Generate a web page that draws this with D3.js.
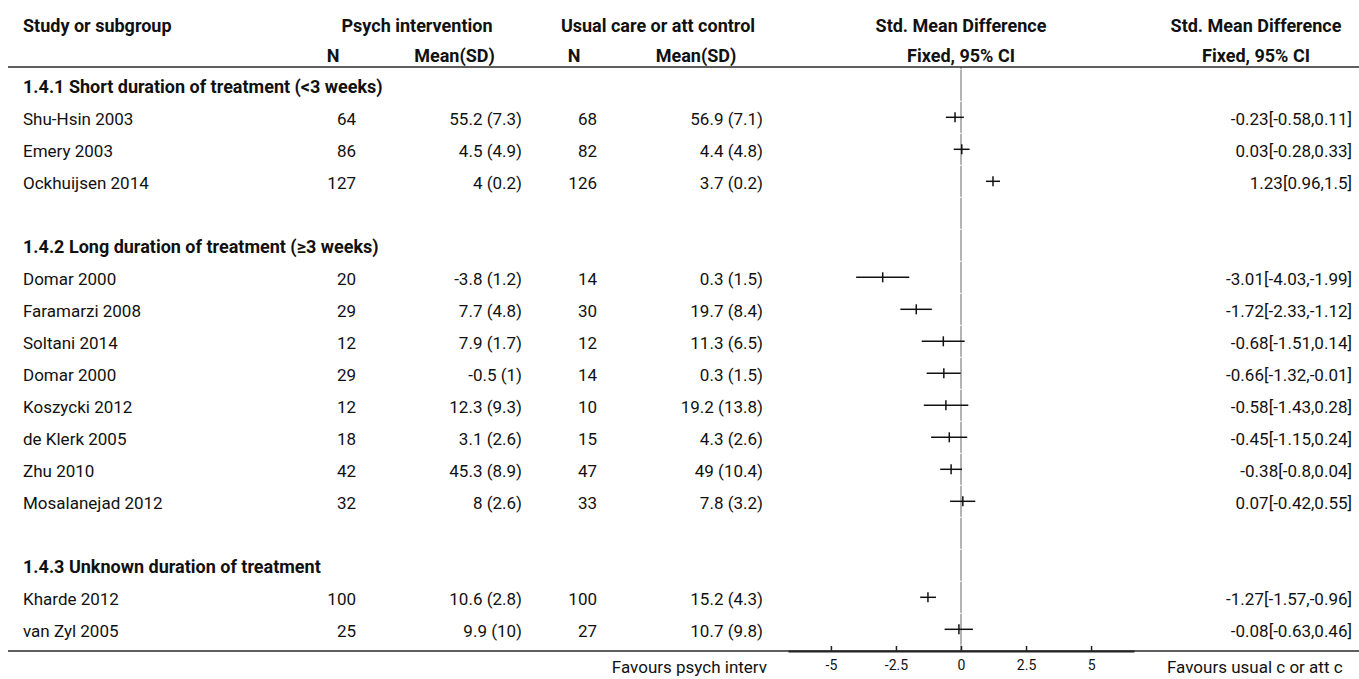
<!DOCTYPE html>
<html>
<head>
<meta charset="utf-8">
<script src="https://cdn.jsdelivr.net/npm/d3@7"></script>
<style>
  html, body { margin: 0; padding: 0; background: #fff; }
  svg { display: block; font-family: Roboto, "Liberation Sans", sans-serif; }
</style>
</head>
<body>
<svg id="chart" width="1359" height="679"></svg>
<script>
// ---- data ----
const groupLabels = [
  "1.4.1 Short duration of treatment (<3 weeks)",
  "1.4.2 Long duration of treatment (\u22653 weeks)",
  "1.4.3 Unknown duration of treatment"
];
const studyNames = ["Shu-Hsin 2003", "Emery 2003", "Ockhuijsen 2014",
  "Domar 2000", "Faramarzi 2008", "Soltani 2014", "Domar 2000", "Koszycki 2012",
  "de Klerk 2005", "Zhu 2010", "Mosalanejad 2012",
  "Kharde 2012", "van Zyl 2005"];
const studyGroup = [0, 0, 0, 1, 1, 1, 1, 1, 1, 1, 1, 2, 2];
const nInterv = [64, 86, 127, 20, 29, 12, 29, 12, 18, 42, 32, 100, 25];
const meanInterv = [55.2, 4.5, 4, -3.8, 7.7, 7.9, -0.5, 12.3, 3.1, 45.3, 8, 10.6, 9.9];
const sdInterv = [7.3, 4.9, 0.2, 1.2, 4.8, 1.7, 1, 9.3, 2.6, 8.9, 2.6, 2.8, 10];
const nControl = [68, 82, 126, 14, 30, 12, 14, 10, 15, 47, 33, 100, 27];
const meanControl = [56.9, 4.4, 3.7, 0.3, 19.7, 11.3, 0.3, 19.2, 4.3, 49, 7.8, 15.2, 10.7];
const sdControl = [7.1, 4.8, 0.2, 1.5, 8.4, 6.5, 1.5, 13.8, 2.6, 10.4, 3.2, 4.3, 9.8];
const smd = [-0.23, 0.03, 1.23, -3.01, -1.72, -0.68, -0.66, -0.58, -0.45, -0.38, 0.07, -1.27, -0.08];
const ciLow = [-0.58, -0.28, 0.96, -4.03, -2.33, -1.51, -1.32, -1.43, -1.15, -0.8, -0.42, -1.57, -0.63];
const ciHigh = [0.11, 0.33, 1.5, -1.99, -1.12, 0.14, -0.01, 0.28, 0.24, 0.04, 0.55, -0.96, 0.46];
const tickValues = [-5, -2.5, 0, 2.5, 5];
const axisLabels = ["Favours psych interv", "Favours usual c or att c"];

// ---- layout ----
const svg = d3.select("#chart");
const ink = "#111";
const bodySize = 17, boldSize = 18, tickSize = 14;
const col = {
  left: 8, studyX: 23,
  n1: 356, m1: 522, n2: 597, m2: 763, ci: 1352,
  n1c: 333, m1c: 454.5, n2c: 574, m2c: 696,
  g1c: 417, g2c: 658, plotc: 961, cic: 1256,
  right: 1359
};
const head1Y = 32, head2Y = 62, topLineY = 67, bottomLineY = 651;
const rowStart = 85.3, rowStep = 32, textDy = 7.5;

// build row list
const rows = [];
groupLabels.forEach((g, gi) => {
  if (gi > 0) rows.push({ type: "blank" });
  rows.push({ type: "group", label: g });
  studyNames.forEach((s, i) => {
    if (studyGroup[i] === gi) rows.push({ type: "study", i });
  });
});
const y = i => rowStart + rowStep * i;

const x = d3.scaleLinear().domain([-6.65, 6.65]).range([788, 1134]);

// text helpers
const bold = (t, xx, yy, anchor) => svg.append("text")
  .attr("x", xx).attr("y", yy).attr("text-anchor", anchor)
  .attr("font-size", boldSize).attr("font-weight", 700).attr("fill", ink).text(t);
const reg = (t, xx, yy, anchor) => svg.append("text")
  .attr("x", xx).attr("y", yy).attr("text-anchor", anchor)
  .attr("font-size", bodySize).attr("fill", ink).text(t);

// headers
bold("Study or subgroup", col.studyX, head1Y, "start");
bold("Psych intervention", col.g1c, head1Y, "middle");
bold("Usual care or att control", col.g2c, head1Y, "middle");
bold("Std. Mean Difference", col.plotc, head1Y, "middle");
bold("Std. Mean Difference", col.cic, head1Y, "middle");
bold("N", col.n1c, head2Y, "middle");
bold("Mean(SD)", col.m1c, head2Y, "middle");
bold("N", col.n2c, head2Y, "middle");
bold("Mean(SD)", col.m2c, head2Y, "middle");
bold("Fixed, 95% CI", col.plotc, head2Y, "middle");
bold("Fixed, 95% CI", col.cic, head2Y, "middle");

// zero line, drawn row by row (as in the reference, faint joins between rows)
const zeroSegs = d3.range(rows.length);
svg.append("line")
  .attr("x1", x(0)).attr("x2", x(0))
  .attr("y1", topLineY).attr("y2", y(0) - rowStep / 2)
  .attr("stroke", "#9a9a9a").attr("stroke-width", 1.5);
svg.selectAll("line.zero").data(zeroSegs).join("line")
  .attr("class", "zero")
  .attr("x1", x(0)).attr("x2", x(0))
  .attr("y1", i => y(i) - rowStep / 2 + 0.5)
  .attr("y2", i => Math.min(y(i) + rowStep / 2 - 0.5, bottomLineY))
  .attr("stroke", "#9a9a9a").attr("stroke-width", 1.5);
svg.append("line")
  .attr("x1", x(0)).attr("x2", x(0))
  .attr("y1", y(rows.length - 1) + rowStep / 2).attr("y2", bottomLineY)
  .attr("stroke", "#9a9a9a").attr("stroke-width", 1.5);

// horizontal rules
[topLineY, bottomLineY].forEach(ly => svg.append("line")
  .attr("x1", col.left).attr("x2", col.right)
  .attr("y1", ly).attr("y2", ly)
  .attr("stroke", "#2a2a2a").attr("stroke-width", 1.5));

// rows
rows.forEach((r, ri) => {
  const ry = y(ri);
  if (r.type === "group") {
    bold(r.label, col.studyX, ry + textDy, "start");
  } else if (r.type === "study") {
    const i = r.i;
    reg(studyNames[i], col.studyX, ry + textDy, "start");
    reg(nInterv[i], col.n1, ry + textDy, "end");
    reg(`${meanInterv[i]} (${sdInterv[i]})`, col.m1, ry + textDy, "end");
    reg(nControl[i], col.n2, ry + textDy, "end");
    reg(`${meanControl[i]} (${sdControl[i]})`, col.m2, ry + textDy, "end");
    reg(`${smd[i]}[${ciLow[i]},${ciHigh[i]}]`, col.ci, ry + textDy, "end");
    // CI line
    svg.append("line")
      .attr("x1", x(ciLow[i])).attr("x2", x(ciHigh[i]))
      .attr("y1", ry).attr("y2", ry)
      .attr("stroke", "#111").attr("stroke-width", 1.5);
    // point marker
    svg.append("line")
      .attr("x1", x(smd[i])).attr("x2", x(smd[i]))
      .attr("y1", ry - 5).attr("y2", ry + 5)
      .attr("stroke", "#111").attr("stroke-width", 1.5);
  }
});

// axis
const axis = d3.axisBottom(x).tickValues(tickValues)
  .tickFormat(d => String(d)).tickSizeInner(-5).tickSizeOuter(0).tickPadding(9);
const ag = svg.append("g").attr("transform", `translate(0,${bottomLineY})`).call(axis);
ag.select(".domain").attr("stroke", "#222").attr("stroke-width", 2.2);
ag.selectAll(".tick line").attr("stroke", "#222").attr("stroke-width", 1.5);
ag.selectAll(".tick text").attr("font-size", tickSize)
  .attr("font-family", "Roboto, sans-serif").attr("fill", ink);

reg(axisLabels[0], 767, 673, "end");
reg(axisLabels[1], 1167, 673, "start");
</script>
</body>
</html>
